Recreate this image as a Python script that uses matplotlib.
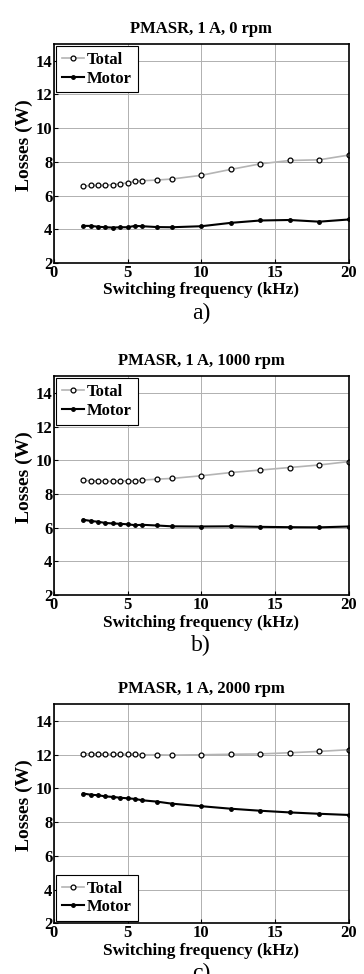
import matplotlib
matplotlib.use('Agg')
import matplotlib.pyplot as plt

plt.rcParams['font.family'] = ['Liberation Serif', 'DejaVu Serif']

# switching frequency (kHz)
freq = [2, 2.5, 3, 3.5, 4, 4.5, 5, 5.5, 6, 7, 8, 10, 12, 14, 16, 18, 20]

# 0 rpm
total_0 = [6.55, 6.6, 6.6, 6.6, 6.65, 6.7, 6.75, 6.85, 6.88, 6.92, 6.98, 7.2, 7.55, 7.88, 8.08, 8.12, 8.4]
motor_0 = [4.2, 4.2, 4.15, 4.12, 4.1, 4.12, 4.12, 4.2, 4.18, 4.13, 4.12, 4.18, 4.38, 4.52, 4.55, 4.45, 4.58]

# 1000 rpm
total_1000 = [8.8, 8.78, 8.77, 8.75, 8.75, 8.78, 8.77, 8.77, 8.82, 8.88, 8.92, 9.08, 9.27, 9.42, 9.57, 9.72, 9.92]
motor_1000 = [6.47, 6.4, 6.35, 6.28, 6.25, 6.23, 6.2, 6.15, 6.17, 6.13, 6.08, 6.07, 6.08, 6.05, 6.03, 6.02, 6.07]

# 2000 rpm
total_2000 = [12.07, 12.05, 12.05, 12.02, 12.03, 12.03, 12.03, 12.03, 12.0, 12.0, 11.98, 12.0, 12.03, 12.05, 12.12, 12.2, 12.3]
motor_2000 = [9.7, 9.63, 9.6, 9.53, 9.5, 9.45, 9.42, 9.38, 9.3, 9.22, 9.1, 8.95, 8.8, 8.68, 8.58, 8.5, 8.43]

titles = ['PMASR, 1 A, 0 rpm', 'PMASR, 1 A, 1000 rpm', 'PMASR, 1 A, 2000 rpm']
labels = ['a)', 'b)', 'c)']
totals = [total_0, total_1000, total_2000]
motors = [motor_0, motor_1000, motor_2000]
legend_loc = ['upper left', 'upper left', 'lower left']

fig = plt.figure(figsize=(3.64, 9.74), dpi=100)
tops = [0.955, 0.614, 0.277]
h = 0.225

for i in range(3):
    ax = fig.add_axes([0.148, tops[i] - h, 0.81, h])
    ax.plot(freq, totals[i], color='#b4b4b4', lw=1.2, marker='o', ms=3.5,
            mfc='white', mec='black', mew=0.9, label='Total')
    ax.plot(freq, motors[i], color='black', lw=1.5, marker='.', ms=5,
            label='Motor')
    ax.set_xlim(0, 20)
    ax.set_ylim(2, 15)
    ax.set_xticks([0, 5, 10, 15, 20])
    ax.set_yticks([2, 4, 6, 8, 10, 12, 14])
    ax.grid(True, color='#b0b0b0', lw=0.7)
    ax.tick_params(direction='in', length=3, labelsize=12)
    ax.tick_params(axis='x', pad=1.5)
    ax.tick_params(axis='y', pad=1)
    for t in ax.get_xticklabels() + ax.get_yticklabels():
        t.set_fontweight('bold')
    for s in ax.spines.values():
        s.set_linewidth(1.2)
    ax.set_title(titles[i], fontsize=12, fontweight='bold', pad=8)
    ax.set_xlabel('Switching frequency (kHz)', fontsize=12.3, fontweight='bold', labelpad=1)
    ax.set_ylabel('Losses (W)', fontsize=14, fontweight='bold')
    ax.yaxis.set_label_coords(-0.072, 0.54)
    leg = ax.legend(loc=legend_loc[i], prop={'size': 12, 'weight': 'bold'},
                    handlelength=1.3, handletextpad=0.2, borderpad=0.35,
                    labelspacing=0.15, borderaxespad=0.15, fancybox=False,
                    edgecolor='black', framealpha=1)
    leg.get_frame().set_linewidth(0.8)
    ax.text(0.5, -0.18, labels[i], transform=ax.transAxes, ha='center',
            va='top', fontsize=17)

fig.savefig('out.png', dpi=100)
